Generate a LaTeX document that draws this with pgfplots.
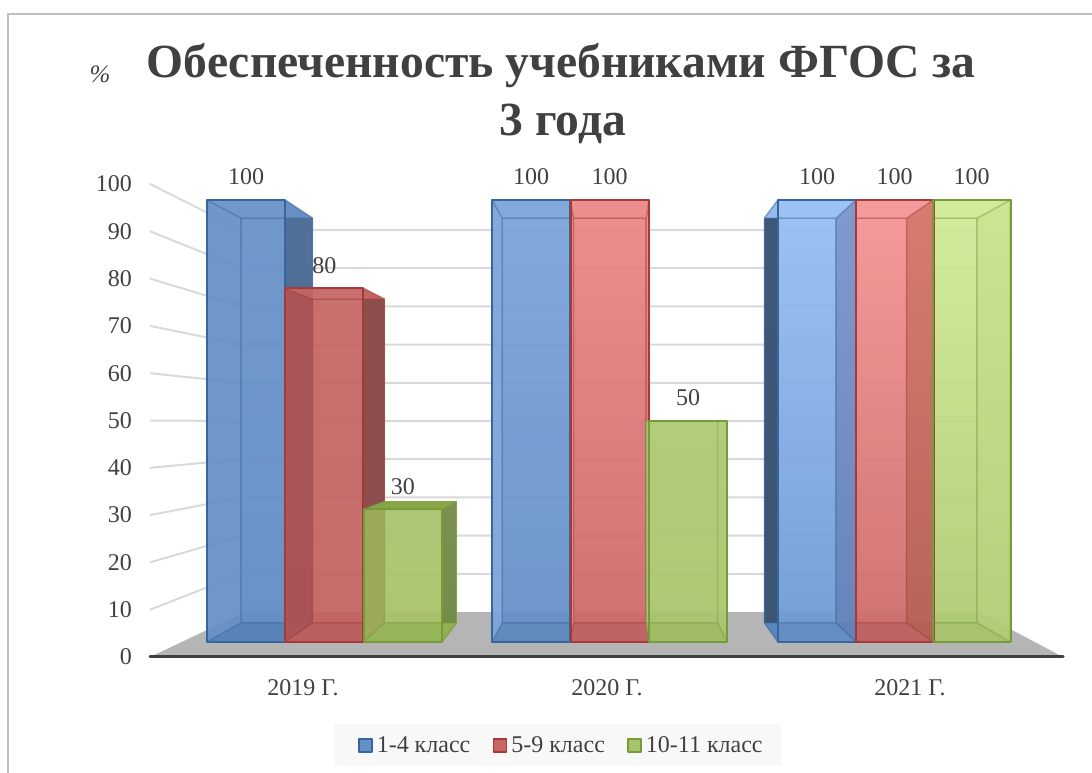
\documentclass[border=0pt]{standalone}
\usepackage{pgfplots}
\pgfplotsset{compat=1.18}
\usepackage{fontspec}
\setmainfont{Liberation Serif}

\definecolor{txt}{HTML}{404040}
\definecolor{gridc}{HTML}{D9D9D9}
\definecolor{framec}{HTML}{BFBFBF}
\definecolor{floorc}{HTML}{B5B5B5}
\definecolor{axisc}{HTML}{404040}
\definecolor{legbg}{HTML}{F8F8F8}
\definecolor{blueF}{HTML}{6590C6}
\definecolor{blueE}{HTML}{38659E}
\definecolor{redF}{HTML}{C56664}
\definecolor{redE}{HTML}{A43A3A}
\definecolor{greenF}{HTML}{A8C46C}
\definecolor{greenE}{HTML}{779A3A}

% name, edge, face top, face bottom, left, right top, right bottom, top, bottom
\newcommand\barcols[9]{%
  \definecolor{#1e}{HTML}{#2}\definecolor{#1t}{HTML}{#3}\definecolor{#1b}{HTML}{#4}%
  \definecolor{#1l}{HTML}{#5}\definecolor{#1p}{HTML}{#6}\definecolor{#1q}{HTML}{#7}%
  \definecolor{#1u}{HTML}{#8}\definecolor{#1f}{HTML}{#9}}
\barcols{Bn}{38659E}{6892C8}{5F8CC4}{6590C6}{4E6D94}{4A6A92}{6892C8}{507FB8}
\barcols{Rn}{A43A3A}{C56664}{C26260}{AD5052}{8B4C4C}{8B4C4C}{C56664}{B95B5B}
\barcols{Gn}{779A3A}{A8C46C}{A6C268}{9BAE58}{778C50}{6F8A45}{86A445}{93B450}
\barcols{Bo}{38659E}{7DA6DB}{6590C8}{7DA6DB}{7DA6DB}{6590C8}{7DA6DB}{5A86BC}
\barcols{Ro}{A43A3A}{EE8B8B}{CC6A6A}{EE8B8B}{EE8B8B}{CC6A6A}{EE8B8B}{BD5F5F}
\barcols{Go}{779A3A}{AECB72}{A9C66C}{AECB72}{AECB72}{A9C66C}{AECB72}{9DBB60}
\barcols{Bp}{38659E}{9BC3F8}{6F9CD6}{38506E}{7B9DD2}{5C83BC}{9BC3F8}{5E8BC5}
\barcols{Rp}{A43A3A}{F99999}{CE6C6C}{F99999}{DB7770}{B35A52}{F99999}{BC5E5E}
\barcols{Gp}{779A3A}{D3EF9A}{B0CD72}{D3EF9A}{CBE78F}{B0CE74}{D3EF9A}{A7C56A}

\pgfplotsset{face/.style={forget plot,draw opacity=.35,line width=1.5pt,line join=round,fill opacity=.93}}

% inner faces of one bar: front left, front right, value, colour name
\newcommand\faces[4]{%
  \pgfmathsetmacro\xa{615+(#1-615)*0.917}%
  \pgfmathsetmacro\xb{615+(#2-615)*0.917}%
  \pgfmathsetmacro\vb{4.3+#3*0.916}%
  \addplot[face,draw=#4e,top color=#4t,bottom color=#4b]
    coordinates {(\xa,4.3)(\xb,4.3)(\xb,\vb)(\xa,\vb)} -- cycle;
  \addplot[face,draw=#4e,fill=#4l]
    coordinates {(#1,0)(\xa,4.3)(\xa,\vb)(#1,#3)} -- cycle;
  \addplot[face,draw=#4e,top color=#4p,bottom color=#4q]
    coordinates {(#2,0)(\xb,4.3)(\xb,\vb)(#2,#3)} -- cycle;
  \addplot[face,draw=#4e,fill=#4f]
    coordinates {(#1,0)(#2,0)(\xb,4.3)(\xa,4.3)} -- cycle;
  \addplot[face,draw=#4e,fill=#4u]
    coordinates {(#1,#3)(#2,#3)(\xb,\vb)(\xa,\vb)} -- cycle;
}

\begin{document}
\begin{tikzpicture}[x=1pt,y=1pt]
\path[use as bounding box] (0,0) rectangle (1092,773);

% frame, title, axis unit: page coordinates in pixels
\begin{axis}[
    at={(0pt,0pt)},anchor=south west,
    width=1092pt,height=773pt,scale only axis,
    xmin=0,xmax=1092,ymin=0,ymax=773,y dir=reverse,
    hide axis,clip=false,
]
\addplot[framec,line width=2pt] coordinates {(8,773)(8,14)(1092,14)};
\node[font=\fontsize{47.6}{47.6}\selectfont\bfseries,text=txt] at (axis cs:561,66) {Обеспеченность учебниками ФГОС за};
\node[font=\fontsize{47.6}{47.6}\selectfont\bfseries,text=txt] at (axis cs:563,124) {3 года};
\node[font=\fontsize{25}{25}\selectfont\itshape,text=txt] at (axis cs:100,74) {\%};
\end{axis}

% wall: ticks, floor, perspective grid lines
\begin{axis}[
    at={(150pt,116pt)},anchor=south west,
    width=913pt,height=473pt,scale only axis,
    xmin=150,xmax=1063,ymin=0,ymax=100,
    clip=false,
    axis x line=bottom,axis y line=left,
    axis line style={draw=none,-},
    major tick length=0pt,
    ytick={0,10,...,100},
    xtick={303,607,910},
    xticklabels={2019 Г.,2020 Г.,2021 Г.},
    tick label style={font=\fontsize{24}{24}\selectfont,text=txt},
    yticklabel style={anchor=east,inner sep=0pt,xshift=-18pt},
    xticklabel style={anchor=center,yshift=-31pt,inner sep=0pt},
    /pgf/number format/assume math mode=true,
]
\addplot[fill=floorc,draw=none] coordinates {(150,0)(1063,0)(978,9.51)(245,9.51)} -- cycle;
\addplot[gridc,line width=2pt] coordinates {(150,10)(242,17.59)(978,17.59)};
\addplot[gridc,line width=2pt] coordinates {(150,20)(242,25.66)(978,25.66)};
\addplot[gridc,line width=2pt] coordinates {(150,30)(242,33.74)(978,33.74)};
\addplot[gridc,line width=2pt] coordinates {(150,40)(242,41.81)(978,41.81)};
\addplot[gridc,line width=2pt] coordinates {(150,50)(242,49.89)(978,49.89)};
\addplot[gridc,line width=2pt] coordinates {(150,60)(242,57.97)(978,57.97)};
\addplot[gridc,line width=2pt] coordinates {(150,70)(242,66.04)(978,66.04)};
\addplot[gridc,line width=2pt] coordinates {(150,80)(242,74.12)(978,74.12)};
\addplot[gridc,line width=2pt] coordinates {(150,90)(242,82.19)(978,82.19)};
\addplot[gridc,line width=2pt] coordinates {(150,100)(242,90.27)(978,90.27)};
\addplot[axisc,line width=3pt,line cap=round] coordinates {(150,0)(1063,0)};
\end{axis}

% bars: front faces carry the values
\begin{axis}[
    at={(150pt,131pt)},anchor=south west,
    width=913pt,height=442pt,scale only axis,
    xmin=150,xmax=1063,ymin=0,ymax=100,
    hide axis,clip=false,
    /pgf/number format/assume math mode=true,
    legend columns=3,
    legend cell align=left,
    legend style={
        at={(0.446,-0.233)},anchor=center,
        draw=none,fill=legbg,
        font=\fontsize{24}{24}\selectfont,text=txt,
        inner xsep=16pt,inner ysep=10pt,
        /tikz/every even column/.append style={column sep=12pt},
    },
    frontbar/.style n args={2}{
        ybar,bar width=78pt,bar shift=0pt,
        draw=#2,line width=2pt,fill=#1,fill opacity=.1,line join=round,
        nodes near coords,
        every node near coord/.append style={font=\fontsize{24}{24}\selectfont,text=txt,text opacity=1,yshift=10.5pt},
        legend image code/.code={
            \path[draw=none,fill=none] (-9pt,0pt) rectangle (16pt,1pt);
            \draw[fill=#1,draw=#2,line width=1.6pt,fill opacity=1] (0pt,-7pt) rectangle (13pt,6pt);
        },
    },
]
\faces{207}{285}{100}{Bn}
\faces{285}{363.5}{80}{Rn}
\faces{363.5}{442}{30}{Gn}
\faces{492}{570}{100}{Bo}
\faces{570}{649}{100}{Ro}
\faces{649}{727}{50}{Go}
\faces{933}{1010}{100}{Gp}
\faces{856}{933}{100}{Rp}
\faces{778}{856}{100}{Bp}

\addplot[frontbar={blueF}{blueE}] coordinates {(246,100)(531,100)(817,100)};
\addlegendentry{1-4 класс}
\addplot[frontbar={redF}{redE}] coordinates {(324.25,80)(609.5,100)(894.5,100)};
\addlegendentry{5-9 класс}
\addplot[frontbar={greenF}{greenE}] coordinates {(402.75,30)(688,50)(971.5,100)};
\addlegendentry{10-11 класс}
\end{axis}
\end{tikzpicture}
\end{document}
